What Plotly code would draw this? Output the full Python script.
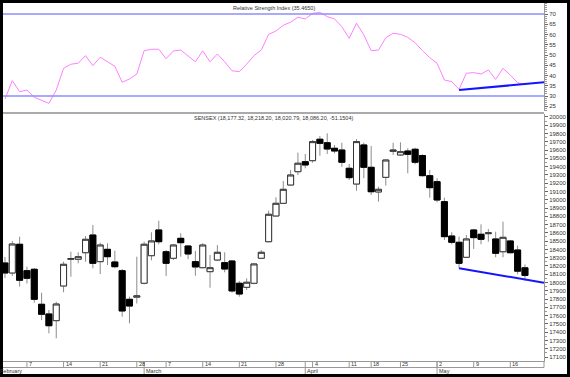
import plotly.graph_objects as go

# ---------------- data ----------------
dates = ["Feb 2", "Feb 3", "Feb 4", "Feb 7", "Feb 8", "Feb 9", "Feb 10", "Feb 11",
         "Feb 14", "Feb 15", "Feb 16", "Feb 17", "Feb 18", "Feb 21", "Feb 22", "Feb 23",
         "Feb 24", "Feb 25", "Feb 28", "Mar 1", "Mar 3", "Mar 4", "Mar 7", "Mar 8",
         "Mar 9", "Mar 10", "Mar 11", "Mar 14", "Mar 15", "Mar 16", "Mar 17", "Mar 18",
         "Mar 21", "Mar 22", "Mar 23", "Mar 24", "Mar 25", "Mar 28", "Mar 29", "Mar 30",
         "Mar 31", "Apr 1", "Apr 4", "Apr 5", "Apr 6", "Apr 7", "Apr 8", "Apr 11",
         "Apr 13", "Apr 15", "Apr 18", "Apr 19", "Apr 20", "Apr 21", "Apr 25", "Apr 26",
         "Apr 27", "Apr 28", "Apr 29", "May 2", "May 3", "May 4", "May 5", "May 6",
         "May 9", "May 10", "May 11", "May 12", "May 13", "May 16", "May 17", "May 18"]

opens = [18236, 18115, 18462, 18143, 18160, 17737, 17620, 17539, 17958, 18280,
         18281, 18360, 18574, 18252, 18401, 18248, 18143, 17797, 17823, 17991,
         18324, 18635, 18372, 18293, 18534, 18441, 18252, 18179, 18131, 18272,
         18240, 18260, 17991, 17942, 17991, 18293, 18493, 18804, 18957, 19178,
         19339, 19460, 19472, 19731, 19689, 19622, 19601, 19380, 19190, 19662,
         19392, 19094, 19271, 19585, 19541, 19589, 19610, 19534, 19291, 19218,
         18977, 18562, 18486, 18305, 18635, 18583, 18590, 18526, 18372, 18502,
         18393, 18177.32]
highs = [18308, 18502, 18554, 18191, 18175, 17877, 17668, 17768, 18252, 18372,
         18365, 18562, 18695, 18481, 18474, 18385, 18163, 17829, 18312, 18493,
         18607, 18747, 18393, 18465, 18595, 18453, 18381, 18474, 18333, 18453,
         18365, 18272, 18018, 18051, 18232, 18393, 18868, 19030, 19227, 19360,
         19569, 19553, 19722, 19770, 19803, 19662, 19689, 19432, 19734, 19689,
         19650, 19158, 19489, 19689, 19694, 19622, 19629, 19549, 19360, 19259,
         19025, 18607, 18554, 18574, 18647, 18703, 18647, 18614, 18735, 18514,
         18445, 18218.20]
lows = [18055, 18079, 17950, 17988, 17756, 17547, 17386, 17326, 17882, 18070,
        18232, 18252, 18172, 18103, 18212, 18172, 17587, 17507, 17747, 17979,
        18269, 18462, 18079, 18272, 18312, 18281, 18082, 18172, 17937, 18260,
        18123, 17877, 17829, 17910, 17979, 18284, 18486, 18795, 18949, 19170,
        19299, 19380, 19448, 19532, 19553, 19561, 19399, 19239, 19109, 19260,
        19058, 18977, 19170, 19541, 19529, 19320, 19428, 19279, 19025, 18969,
        18514, 18462, 18172, 18300, 18405, 18462, 18493, 18305, 18305, 18353,
        18099, 18020.79]
closes = [18115, 18465, 18027, 18051, 17797, 17616, 17478, 17740, 18220, 18290,
          18312, 18522, 18232, 18453, 18312, 18191, 17656, 17716, 17838, 18462,
          18502, 18493, 18232, 18453, 18481, 18345, 18188, 18453, 18179, 18365,
          18163, 17898, 17861, 18003, 18224, 18365, 18824, 18957, 19126, 19299,
          19441, 19420, 19702, 19682, 19613, 19589, 19453, 19267, 19702, 19392,
          19097, 19126, 19480, 19600, 19581, 19549, 19453, 19291, 19146, 18997,
          18554, 18486, 18232, 18526, 18542, 18522, 18600, 18353, 18546, 18360,
          18137.35, 18086.20]

rsi = [28.5, 37.5, 32.1, 32.9, 29.4, 27.8, 26.4, 32.9, 43.5, 45.5,
       46.0, 49.7, 44.8, 48.9, 46.6, 44.5, 36.7, 38.3, 40.7, 52.1,
       52.8, 52.8, 48.2, 52.0, 52.4, 49.7, 46.7, 52.0, 46.7, 50.5,
       46.7, 42.3, 41.9, 45.5, 49.7, 52.4, 60.1, 61.7, 64.5, 66.0,
       68.4, 67.6, 70.3, 70.8, 68.7, 67.6, 63.8, 58.1, 65.5, 59.8,
       52.1, 52.4, 58.4, 60.6, 60.1, 58.6, 56.0, 52.1, 48.7, 46.0,
       37.8, 37.0, 33.3, 41.1, 41.4, 40.7, 42.7, 38.1, 43.5, 40.2,
       36.5, 35.465]

rsi_levels = [30, 70]
rsi_ticks = [25, 30, 35, 40, 45, 50, 55, 60, 65, 70]
price_ticks = list(range(17100, 20001, 100))

# analyst trendlines (start at May 5 low, run to right edge)
trend_start = "May 5"
trend_rsi = [32.9, 36.7]
trend_price = [18172, 17998]

week_dates = ["Feb 7", "Feb 14", "Feb 21", "Feb 28", "Mar 7", "Mar 14", "Mar 21", "Mar 28",
              "Apr 4", "Apr 11", "Apr 18", "Apr 25", "May 2", "May 9", "May 16"]
week_labels = ["7", "14", "21", "28", "7", "14", "21", "28", "4", "11", "18", "25", "2", "9", "16"]
month_dates = ["Feb 1", "Mar 1", "Apr 1", "May 2"]
month_labels = ["February", "March", "April", "May"]

rsi_title = "Relative Strength Index (35.4650)"
price_title = "SENSEX (18,177.32, 18,218.20, 18,020.79, 18,086.20, -51.1504)"

# ---------------- layout helpers ----------------
W, H = 570, 377
ML, MR, MT, MB = 3, 26, 3, 16
PW, PH = W - ML - MR, H - MT - MB


def fx(px):
    return (px - ML) / PW


def fy(py):
    return (H - MB - py) / PH


X_RANGE = [-0.27, 73.6]


def xi(i):
    return (i - X_RANGE[0]) / (X_RANGE[1] - X_RANGE[0])


def day_index(d):
    return dates.index(d) if d in dates else -1


idx = list(range(len(dates)))
FONT = "Liberation Sans, Arial, sans-serif"

fig = go.Figure()

# wicks (gray)
fig.add_trace(go.Candlestick(
    x=idx, open=opens, high=highs, low=lows, close=closes,
    increasing=dict(line=dict(color="#8c8c8c", width=1), fillcolor="white"),
    decreasing=dict(line=dict(color="#8c8c8c", width=1), fillcolor="black"),
    xaxis="x", yaxis="y2", hoverinfo="skip", showlegend=False))
# bodies (dark outline)
body_hi = [max(o, c) for o, c in zip(opens, closes)]
body_lo = [min(o, c) for o, c in zip(opens, closes)]
fig.add_trace(go.Candlestick(
    x=idx, open=opens, high=body_hi, low=body_lo, close=closes,
    increasing=dict(line=dict(color="#333333", width=1), fillcolor="white"),
    decreasing=dict(line=dict(color="#000000", width=1), fillcolor="black"),
    xaxis="x", yaxis="y2", hoverinfo="skip", showlegend=False))

# RSI line
fig.add_trace(go.Scatter(x=idx, y=rsi, mode="lines", line=dict(color="#ff80ff", width=1),
                         xaxis="x", yaxis="y", hoverinfo="skip", showlegend=False))

t0 = day_index(trend_start)
trend_x = [t0, X_RANGE[1]]
fig.add_trace(go.Scatter(x=trend_x, y=trend_rsi, mode="lines", line=dict(color="#1414ff", width=2),
                         xaxis="x", yaxis="y", hoverinfo="skip", showlegend=False))
fig.add_trace(go.Scatter(x=trend_x, y=trend_price, mode="lines", line=dict(color="#1414ff", width=2),
                         xaxis="x", yaxis="y2", hoverinfo="skip", showlegend=False))

shapes = []
# white canvas inside black frame
shapes.append(dict(type="rect", xref="paper", yref="paper", x0=fx(3), x1=fx(567),
                   y0=fy(374), y1=fy(3), fillcolor="white", line=dict(width=0), layer="below"))
# RSI level lines
for lv in rsi_levels:
    shapes.append(dict(type="line", xref="x domain", yref="y", x0=0, x1=1, y0=lv, y1=lv,
                       line=dict(color="#8c8cff", width=1.6)))
# panel separator
shapes.append(dict(type="rect", xref="paper", yref="paper", x0=fx(3), x1=fx(544),
                   y0=fy(114), y1=fy(112), fillcolor="#aaaaaa", line=dict(width=0)))
# date rows
shapes.append(dict(type="line", xref="paper", yref="paper", x0=fx(3), x1=1,
                   y0=fy(367.5), y1=fy(367.5), line=dict(color="#999999", width=1)))
shapes.append(dict(type="line", xref="paper", yref="paper", x0=1, x1=1,
                   y0=fy(361), y1=fy(367.5), line=dict(color="#999999", width=1)))

annotations = []
for d, lab in zip(week_dates, week_labels):
    xp = xi(day_index(d))
    shapes.append(dict(type="line", xref="paper", yref="paper", x0=xp, x1=xp,
                       y0=fy(361), y1=fy(367.5), line=dict(color="#999999", width=1)))
    annotations.append(dict(xref="paper", yref="paper", x=xp, y=fy(364.2), text=lab,
                            xanchor="left", yanchor="middle", showarrow=False, xshift=0,
                            font=dict(size=5.5, color="#333333", family=FONT)))
for d, lab in zip(month_dates, month_labels):
    xp = xi(day_index(d))
    shapes.append(dict(type="line", xref="paper", yref="paper", x0=xp, x1=xp,
                       y0=fy(361), y1=fy(374), line=dict(color="#999999", width=1)))
    annotations.append(dict(xref="paper", yref="paper", x=xp, y=fy(371), text=lab,
                            xanchor="left", yanchor="middle", showarrow=False, xshift=0,
                            font=dict(size=5.5, color="#333333", family=FONT)))

annotations.append(dict(xref="paper", yref="paper", x=0.5, y=fy(7.5), text=rsi_title,
                        xanchor="center", yanchor="middle", showarrow=False,
                        font=dict(size=5.5, color="#333333", family=FONT)))
annotations.append(dict(xref="paper", yref="paper", x=0.5, y=fy(118.5), text=price_title,
                        xanchor="center", yanchor="middle", showarrow=False,
                        font=dict(size=5.5, color="#333333", family=FONT)))

yax_common = dict(anchor="x", side="right", ticks="outside", ticklen=3, tickcolor="#666666",
                  showline=True, linecolor="#999999", linewidth=1, showgrid=False, zeroline=False,
                  tickfont=dict(size=6, color="#333333", family=FONT), fixedrange=True)

fig.update_layout(
    width=W, height=H,
    margin=dict(l=ML, r=MR, t=MT, b=MB, pad=0, autoexpand=False),
    paper_bgcolor="black", plot_bgcolor="white", showlegend=False,
    boxgap=0.18, boxgroupgap=0,
    xaxis=dict(range=X_RANGE, domain=[0, 1], anchor="y2", showticklabels=False, ticks="",
               showline=True, linecolor="#999999", linewidth=1, showgrid=False, zeroline=False,
               rangeslider=dict(visible=False), fixedrange=True),
    yaxis=dict(domain=[fy(111), 1], range=[22.68, 75.37], tickmode="array", tickvals=rsi_ticks,
               minor=dict(dtick=1, tick0=0, ticks="outside", ticklen=2, tickcolor="#999999"),
               **yax_common),
    yaxis2=dict(domain=[0, fy(114)], range=[17051.7, 20036], tickmode="array", tickvals=price_ticks,
                tickformat="d",
                minor=dict(dtick=50, tick0=0, ticks="outside", ticklen=2, tickcolor="#999999"),
                **yax_common),
    shapes=shapes, annotations=annotations,
)

fig.write_html("out.html", config=dict(displayModeBar=False, staticPlot=True),
               post_script="document.body.style.margin='0';document.body.style.overflow='hidden';")
